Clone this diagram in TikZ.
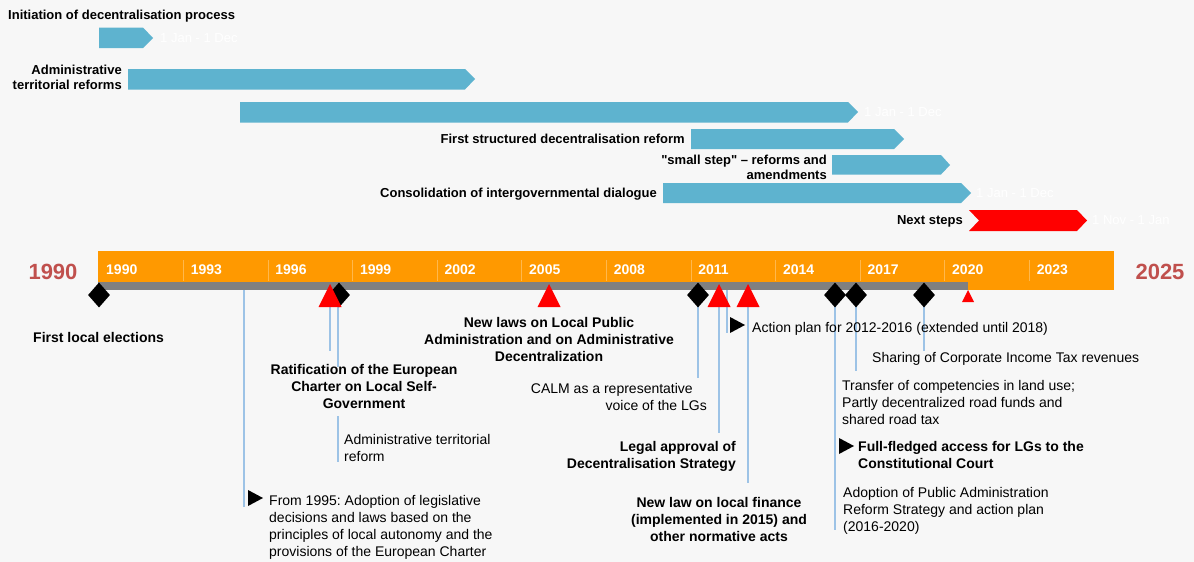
\documentclass[tikz,border=0pt]{standalone}
\usepackage{fontspec}
\setmainfont{Liberation Sans}[Ligatures=TeXOff]
\frenchspacing
\usetikzlibrary{shapes.geometric}
\definecolor{bgcol}{HTML}{F7F7F7}
\definecolor{barblue}{HTML}{5EB3CF}
\definecolor{tlorange}{HTML}{FF9900}
\definecolor{divorange}{HTML}{FFB84D}
\definecolor{tlgray}{HTML}{808080}
\definecolor{conncol}{HTML}{9DC3E6}
\definecolor{bigyear}{HTML}{C0504D}
\tikzset{
  gl/.style={font=\fontsize{13}{14.5}\selectfont\bfseries, inner sep=0pt},
  dt/.style={font=\fontsize{13}{14.5}\selectfont, text=white, inner sep=0pt, anchor=base west},
  yr/.style={font=\fontsize{14}{17}\selectfont\bfseries, text=white, inner sep=0pt, anchor=west},
  big/.style={font=\fontsize{22}{26}\selectfont\bfseries, text=bigyear, inner sep=0pt},
  bt/.style={font=\fontsize{14}{17}\selectfont\bfseries, inner sep=0pt},
  rt/.style={font=\fontsize{14}{17}\selectfont, inner sep=0pt},
  dia/.style={diamond, fill=black, inner sep=0pt, minimum width=22pt, minimum height=25pt},
  conn/.style={draw=conncol, line width=1.5pt},
  redtri/.pic={\fill[red] (-11.5,12) -- (11.5,12) -- (0,-11) -- cycle;},
  smalltri/.pic={\fill[red] (-6,6) -- (6,6) -- (0,-6) -- cycle;},
  play/.pic={\fill[black] (0,-8) -- (15,0) -- (0,8) -- cycle;},
}
\begin{document}
\begin{tikzpicture}[x=1pt,y=-1pt]
\useasboundingbox (0,0) rectangle (1194,562);
\fill[bgcol] (0,0) rectangle (1194,562);

% ---------- Gantt bars ----------
\fill[barblue] (99,27.5) -- (143,27.5) -- (153,38) -- (143,48) -- (99,48) -- cycle;
\fill[barblue] (128,69) -- (465,69) -- (475,79) -- (465,89.5) -- (128,89.5) -- cycle;
\fill[barblue] (240,102) -- (848,102) -- (858,112) -- (848,122.5) -- (240,122.5) -- cycle;
\fill[barblue] (691,129) -- (894,129) -- (904,139) -- (894,149) -- (691,149) -- cycle;
\fill[barblue] (832,155) -- (941,155) -- (950,165) -- (941,174.5) -- (832,174.5) -- cycle;
\fill[barblue] (663,183) -- (961,183) -- (971,193) -- (961,203) -- (663,203) -- cycle;
\fill[red] (969,210) -- (1077,210) -- (1087,220.5) -- (1077,231) -- (969,231) -- (979,220.5) -- cycle;

% multi-line nodes: base anchor = baseline of the last line
\node[gl, anchor=base west] (g1) at (8,19.5) {Initiation of decentralisation process};
\node[gl, anchor=base east, align=right] (g2) at (122,89) {Administrative\\territorial reforms};
\node[gl, anchor=base east] (g4) at (685,143.5) {First structured decentralisation reform};
\node[gl, anchor=base east, align=right] (g5) at (827,179) {"small step" – reforms and\\amendments};
\node[gl, anchor=base east] (g6) at (657,197.5) {Consolidation of intergovernmental dialogue};
\node[gl, anchor=base east] (g7) at (963,224.5) {Next steps};

\node[dt] (d1) at (160,42.5) {1 Jan - 1 Dec};
\node[dt] (d3) at (864,116.5) {1 Jan - 1 Dec};
\node[dt] (d6) at (976,197.5) {1 Jan - 1 Dec};
\node[dt] (d7) at (1092,224.5) {1 Nov - 1 Jan};

% ---------- Timeline ----------
\fill[tlorange] (98,251) rectangle (1114,290);
\fill[tlgray] (98,282) rectangle (968,290);
\foreach \k in {0,...,10} {
  \draw[divorange, line width=1pt] ({183.5+84.6*\k},260) -- ({183.5+84.6*\k},281);
}
\foreach \y [count=\k from 0] in {1990,1993,1996,1999,2002,2005,2008,2011,2014,2017,2020,2023} {
  \node[yr] (y\y) at ({106+84.6*\k},270) {\y};
}
\node[big] (start) at (53,272) {1990};
\node[big] (end) at (1160,272) {2025};

% ---------- connector coordinates ----------
\coordinate (a244t) at (244,290); \coordinate (a244b) at (244,507);
\coordinate (a330t) at (330,290); \coordinate (a330b) at (330,351);
\coordinate (a338t) at (338,290); \coordinate (a338b) at (338,367);
\coordinate (b338t) at (338,416); \coordinate (b338b) at (338,462);
\coordinate (a698t) at (698,290); \coordinate (a698b) at (698,378);
\coordinate (a719t) at (719,290); \coordinate (a719b) at (719,433);
\coordinate (a727t) at (727,290); \coordinate (a727b) at (727,333);
\coordinate (a748t) at (748,290); \coordinate (a748b) at (748,483);
\coordinate (a835t) at (835,290); \coordinate (a835b) at (835,530);
\coordinate (a856t) at (856,290); \coordinate (a856b) at (856,371);
\coordinate (a924t) at (924,290); \coordinate (a924b) at (924,351);
\foreach \n in {244,330,338,698,719,727,748,835,856,924} {
  \draw[conn] (a\n t) -- (a\n b);
}
\draw[conn] (b338t) -- (b338b);

% ---------- markers ----------
\node[dia] (m1990) at (99,295) {};
\node[dia] (m1997) at (339,295) {};
\pic (t1997) at (330,295) {redtri};
\pic (t2005) at (549,295) {redtri};
\node[dia] (m2010) at (698,295) {};
\pic (t2011) at (719,295) {redtri};
\pic (t2012) at (748,295) {redtri};
\node[dia] (m2015) at (835,295) {};
\node[dia] (m2016) at (856,295) {};
\node[dia] (m2018) at (924,295) {};
\pic (t2020) at (968,296) {smalltri};

% ---------- texts ----------
\node[bt, anchor=base west] (e1) at (33,342) {First local elections};
\node[bt, anchor=base, align=center] (e2) at (364,408) {Ratification of the European\\Charter on Local Self-\\Government};
\node[rt, anchor=base west, align=left] (e3) at (344,461) {Administrative territorial\\reform};
\pic (p1) at (248,498) {play};
\node[rt, anchor=base west, align=left] (e4) at (269,556) {From 1995: Adoption of legislative\\decisions and laws based on the\\principles of local autonomy and the\\provisions of the European Charter};
\node[bt, anchor=base, align=center] (e5) at (549,361) {New laws on Local Public\\Administration and on Administrative\\Decentralization};
\node[rt, anchor=base east, align=right] (e6) at (707,410) {CALM as a representative\hspace*{14pt}\\voice of the LGs};
\node[bt, anchor=base east, align=right] (e7) at (736,468) {Legal approval of\\Decentralisation Strategy};
\node[bt, anchor=base, align=center] (e8) at (719,541) {New law on local finance\\(implemented in 2015) and\\other normative acts};
\pic (p2) at (730,325) {play};
\node[rt, anchor=base west] (e9) at (752,332) {Action plan for 2012-2016 (extended until 2018)};
\node[rt, anchor=base west] (e10) at (872,362) {Sharing of Corporate Income Tax revenues};
\node[rt, anchor=base west, align=left] (e11) at (842,424) {Transfer of competencies in land use;\\Partly decentralized road funds and\\shared road tax};
\pic (p3) at (839,446) {play};
\node[bt, anchor=base west, align=left] (e12) at (858,468) {Full-fledged access for LGs to the\\Constitutional Court};
\node[rt, anchor=base west, align=left] (e13) at (843,531) {Adoption of Public Administration\\Reform Strategy and action plan\\(2016-2020)};
\end{tikzpicture}
\end{document}
